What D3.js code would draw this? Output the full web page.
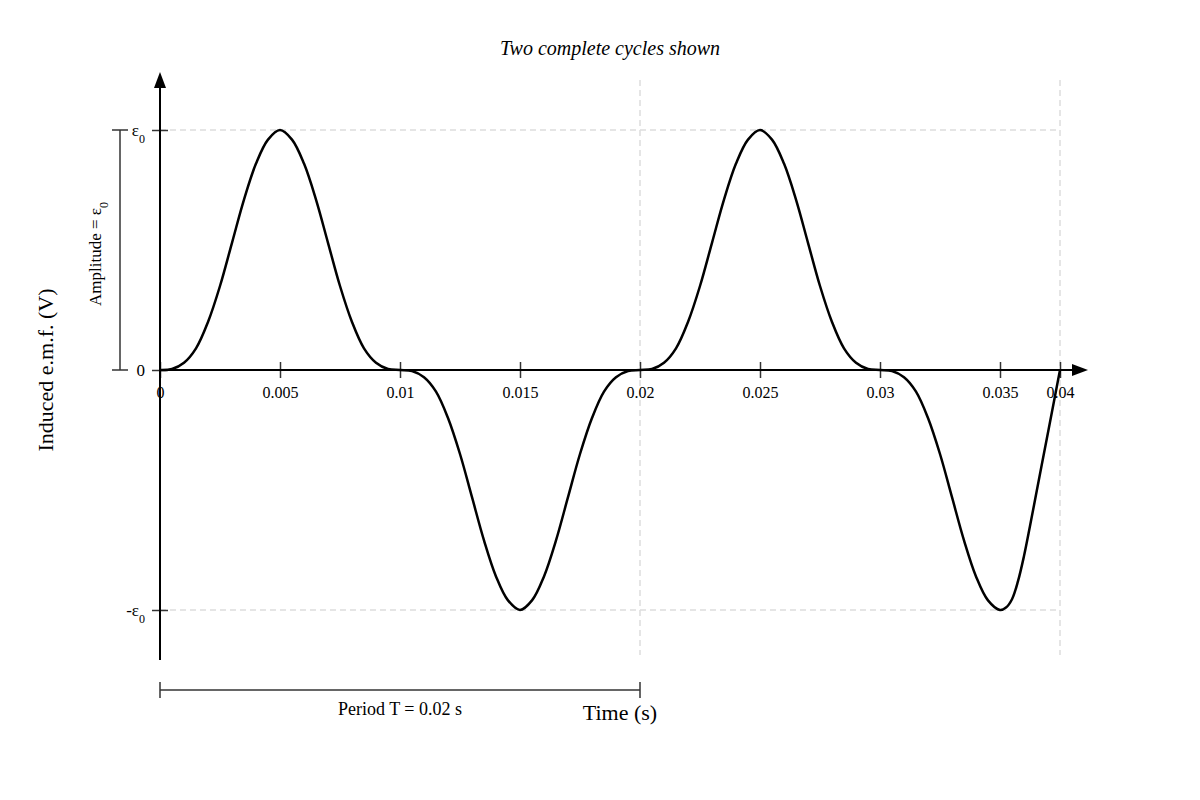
<!DOCTYPE html>
<html>
<head>
<meta charset="utf-8">
<script src="https://cdn.jsdelivr.net/npm/d3@7"></script>
<style>
  body { margin: 0; background: #fff; }
  text { font-family: "Liberation Serif", "Times New Roman", serif; fill: #000; }
</style>
</head>
<body>
<div id="chart"></div>
<script>
// time samples (s), every 0.5 ms
var times = [
  0, 0.0005, 0.001, 0.0015, 0.002, 0.0025, 0.003, 0.0035, 0.004, 0.0045,
  0.005, 0.0055, 0.006, 0.0065, 0.007, 0.0075, 0.008, 0.0085, 0.009, 0.0095,
  0.01, 0.0105, 0.011, 0.0115, 0.012, 0.0125, 0.013, 0.0135, 0.014, 0.0145,
  0.015, 0.0155, 0.016, 0.0165, 0.017, 0.0175, 0.018, 0.0185, 0.019, 0.0195,
  0.02, 0.0205, 0.021, 0.0215, 0.022, 0.0225, 0.023, 0.0235, 0.024, 0.0245,
  0.025, 0.0255, 0.026, 0.0265, 0.027, 0.0275, 0.028, 0.0285, 0.029, 0.0295,
  0.03, 0.0305, 0.031, 0.0315, 0.032, 0.0325, 0.033, 0.0335, 0.034, 0.0345,
  0.035, 0.0355, 0.036, 0.0365, 0.037, 0.0375, 0.038, 0.0385, 0.039, 0.0395,
  0.04
];

// induced emf in units of eps0
var emf = [
  0, 0.004, 0.03, 0.09, 0.20, 0.35, 0.53, 0.71, 0.86, 0.96,
  1, 0.96, 0.86, 0.71, 0.53, 0.35, 0.20, 0.09, 0.03, 0.004,
  0, -0.004, -0.03, -0.09, -0.20, -0.35, -0.53, -0.71, -0.86, -0.96,
  -1, -0.96, -0.86, -0.71, -0.53, -0.35, -0.20, -0.09, -0.03, -0.004,
  0, 0.004, 0.03, 0.09, 0.20, 0.35, 0.53, 0.71, 0.86, 0.96,
  1, 0.96, 0.86, 0.71, 0.53, 0.35, 0.20, 0.09, 0.03, 0.004,
  0, -0.004, -0.03, -0.09, -0.20, -0.35, -0.53, -0.71, -0.86, -0.96,
  -1, -0.99, -0.955, -0.88, -0.775, -0.65, -0.52, -0.39, -0.26, -0.13,
  0
];

// tick values and labels
var xTicks = [0, 0.005, 0.01, 0.015, 0.02, 0.025, 0.03, 0.035, 0.04];
var xTickLabels = ["0", "0.005", "0.01", "0.015", "0.02", "0.025", "0.03", "0.035", "0.04"];
var yTicks = [-1, 0, 1];
var yTickMain = ["-ε", "0", "ε"];
var yTickSub = ["0", "", "0"];
var periodStart = 0, periodEnd = 0.02;
var gridTimes = [0.02, 0.04];
var gridLevels = [1, -1];

var width = 1200, height = 800;

var svg = d3.select("#chart")
  .append("svg")
    .attr("width", width)
    .attr("height", height);

// x scale: last stretch is squeezed in the original
var x = d3.scaleLinear()
  .domain([0, 0.035, 0.04])
  .range([160, 1000, 1060]);

var y = d3.scaleLinear()
  .domain([-1, 1])
  .range([610, 130]);

var x0 = x(0), y0 = y(0);

// dashed guide lines
svg.selectAll(".hgrid")
  .data(gridLevels)
  .enter().append("line")
    .attr("x1", x0).attr("x2", x(0.04))
    .attr("y1", function(d) { return y(d); })
    .attr("y2", function(d) { return y(d); })
    .attr("stroke", "#ddd")
    .attr("stroke-width", 1.5)
    .attr("stroke-dasharray", "6,4");

svg.selectAll(".vgrid")
  .data(gridTimes)
  .enter().append("line")
    .attr("x1", function(d) { return x(d); })
    .attr("x2", function(d) { return x(d); })
    .attr("y1", y(1) - 50).attr("y2", y(-1) + 45)
    .attr("stroke", "#ddd")
    .attr("stroke-width", 1.5)
    .attr("stroke-dasharray", "6,4");

// x ticks
var xAxis = svg.append("g")
  .attr("transform", "translate(0," + (y0 - 8) + ")")
  .call(d3.axisBottom(x)
    .tickValues(xTicks)
    .tickFormat(function(d, i) { return xTickLabels[i]; })
    .tickSizeInner(16)
    .tickSizeOuter(0)
    .tickPadding(9));
xAxis.select(".domain").remove();
xAxis.selectAll(".tick line").attr("stroke", "#333").attr("stroke-width", 1.5);
xAxis.selectAll(".tick text")
  .attr("fill", "#000")
  .style("font-family", "'Liberation Serif', serif")
  .style("font-size", "16px");

// y ticks
var yAxis = svg.append("g")
  .attr("transform", "translate(" + (x0 + 8) + ",0)")
  .call(d3.axisLeft(y)
    .tickValues(yTicks)
    .tickFormat("")
    .tickSizeInner(16)
    .tickSizeOuter(0)
    .tickPadding(7));
yAxis.select(".domain").remove();
yAxis.selectAll(".tick line").attr("stroke", "#333").attr("stroke-width", 1.5);
yAxis.selectAll(".tick text")
  .attr("fill", "#000")
  .style("font-family", "'Liberation Serif', serif")
  .style("font-size", "17px")
  .each(function(d, i) {
    var t = d3.select(this);
    t.append("tspan").text(yTickMain[i]);
    if (yTickSub[i]) {
      t.append("tspan")
        .attr("baseline-shift", "sub")
        .style("font-size", "12px")
        .text(yTickSub[i]);
    }
  });

// the emf curve
var line = d3.line()
  .x(function(d, i) { return x(times[i]); })
  .y(function(d) { return y(d); })
  .curve(d3.curveCatmullRom.alpha(0.5));

svg.append("path")
  .datum(emf)
  .attr("fill", "none")
  .attr("stroke", "#000")
  .attr("stroke-width", 2.5)
  .attr("d", line);

// axes with arrow heads
svg.append("line")
  .attr("x1", x0).attr("x2", x(0.04) + 15)
  .attr("y1", y0).attr("y2", y0)
  .attr("stroke", "#000").attr("stroke-width", 2);
svg.append("path")
  .attr("d", "M" + (x(0.04) + 28) + "," + y0 +
             "L" + (x(0.04) + 12) + "," + (y0 - 6) +
             "L" + (x(0.04) + 12) + "," + (y0 + 6) + "Z")
  .attr("fill", "#000");

svg.append("line")
  .attr("x1", x0).attr("x2", x0)
  .attr("y1", y(-1) + 50).attr("y2", y(1) - 45)
  .attr("stroke", "#000").attr("stroke-width", 2);
svg.append("path")
  .attr("d", "M" + x0 + "," + (y(1) - 58) +
             "L" + (x0 - 6) + "," + (y(1) - 42) +
             "L" + (x0 + 6) + "," + (y(1) - 42) + "Z")
  .attr("fill", "#000");

// amplitude bracket
var ax = x0 - 40;
svg.append("line")
  .attr("x1", ax).attr("x2", ax)
  .attr("y1", y(1)).attr("y2", y0)
  .attr("stroke", "#333").attr("stroke-width", 1.5);
svg.selectAll(".acap")
  .data([1, 0])
  .enter().append("line")
    .attr("x1", ax - 8).attr("x2", ax + 8)
    .attr("y1", function(d) { return y(d); })
    .attr("y2", function(d) { return y(d); })
    .attr("stroke", "#333").attr("stroke-width", 1.5);

var amp = svg.append("text")
  .attr("transform", "translate(" + (ax - 19) + "," + ((y(1) + y0) / 2 + 4) + ") rotate(-90)")
  .attr("text-anchor", "middle")
  .style("font-size", "17px");
amp.append("tspan").text("Amplitude = ε");
amp.append("tspan").attr("baseline-shift", "sub").style("font-size", "12px").text("0");

// period bracket
var py = y(-1) + 80;
svg.append("line")
  .attr("x1", x(periodStart)).attr("x2", x(periodEnd))
  .attr("y1", py).attr("y2", py)
  .attr("stroke", "#333").attr("stroke-width", 1.5);
svg.selectAll(".pcap")
  .data([periodStart, periodEnd])
  .enter().append("line")
    .attr("x1", function(d) { return x(d); })
    .attr("x2", function(d) { return x(d); })
    .attr("y1", py - 8).attr("y2", py + 8)
    .attr("stroke", "#333").attr("stroke-width", 1.5);
svg.append("text")
  .attr("x", x((periodStart + periodEnd) / 2))
  .attr("y", py + 25)
  .attr("text-anchor", "middle")
  .style("font-size", "18px")
  .text("Period T = 0.02 s");

// titles
svg.append("text")
  .attr("x", 610).attr("y", 55)
  .attr("text-anchor", "middle")
  .style("font-size", "20px")
  .style("font-style", "italic")
  .text("Two complete cycles shown");

svg.append("text")
  .attr("x", 620).attr("y", 720)
  .attr("text-anchor", "middle")
  .style("font-size", "22px")
  .text("Time (s)");

svg.append("text")
  .attr("transform", "translate(53," + y0 + ") rotate(-90)")
  .attr("text-anchor", "middle")
  .style("font-size", "22px")
  .text("Induced e.m.f. (V)");
</script>
</body>
</html>
